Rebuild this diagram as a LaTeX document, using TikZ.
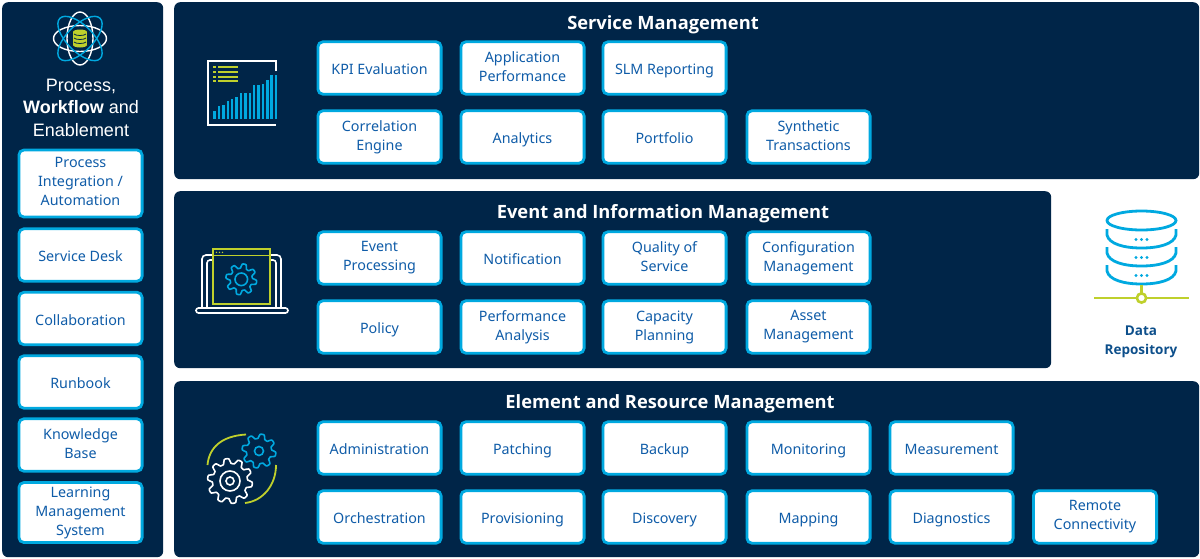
\documentclass[tikz,border=0pt]{standalone}
\usepackage{fontspec}
\setmainfont{Noto Sans}
\newfontfamily\headfont{Liberation Sans}
\newfontfamily\boldfont{Open Sans}
\definecolor{navy}{HTML}{002548}
\definecolor{cyanb}{HTML}{00A9E0}
\definecolor{txtblue}{HTML}{0F5CA8}
\definecolor{lime}{HTML}{BFD02C}
\definecolor{datablue}{HTML}{0D4F8B}
\newcommand{\boxstrut}{\rule[-3.5pt]{0pt}{20pt}}
\tikzset{
  panel/.style={fill=navy,draw=none,rounded corners=6pt},
  itembox/.style={draw=cyanb,line width=2.8pt,fill=white,rounded corners=5pt,minimum width=123.2pt,minimum height=52.4pt,inner sep=0pt,align=center,text=txtblue,font=\fontsize{14.3}{19}\selectfont,anchor=center,execute at begin node=\boxstrut,execute at end node=\boxstrut},
  paneltitle/.style={text=white,font=\boldfont\fontsize{18.3}{22}\selectfont\bfseries,anchor=center},
  iconw/.style={draw=white,line width=1.6pt},
  iconb/.style={draw=cyanb,line width=1.6pt},
  icony/.style={draw=lime,line width=1.6pt},
}
\newcommand{\gearat}[6]{% x,y,R,tooth,n,style
  \draw[#6,line join=round] plot[domain=0:360,samples=#5*12+1] ({#1+(#3+#4*max(min(1.7*sin(#5*\x),1),-1))*cos(\x)},{#2+(#3+#4*max(min(1.7*sin(#5*\x),1),-1))*sin(\x)});
}
\begin{document}
\begin{tikzpicture}[x=1pt,y=-1pt]
\useasboundingbox (0,0) rectangle (1200,558);
\fill[white] (0,0) rectangle (1200,558);
% panels
\node[panel,minimum width=161pt,minimum height=555pt,anchor=north west,inner sep=0pt] (pleft) at (2,2) {};
\node[panel,minimum width=1025pt,minimum height=177pt,anchor=north west,inner sep=0pt] (psm) at (174,2) {};
\node[panel,minimum width=877pt,minimum height=177pt,anchor=north west,inner sep=0pt] (pei) at (174,191) {};
\node[panel,minimum width=1025pt,minimum height=176pt,anchor=north west,inner sep=0pt] (per) at (174,381) {};
% titles
\node[paneltitle] (tsm) at (663,25) {Service Management};
\node[paneltitle] (tei) at (663,213.5) {Event and Information Management};
\node[paneltitle] (ter) at (670,404) {Element and Resource Management};
\node[text=white,align=center,font=\headfont\fontsize{18}{22.4}\selectfont] (tleft) at (81,107.5) {Process,\\\textbf{Workflow} and\\Enablement};
% service
\node[itembox] (a1) at (379.5,68) {KPI Evaluation};
\node[itembox] (a2) at (522.5,68) {Application\\Performance};
\node[itembox] (a3) at (664.5,68) {SLM Reporting};
\node[itembox] (a4) at (379.5,137) {Correlation\\Engine};
\node[itembox] (a5) at (522.5,137) {Analytics};
\node[itembox] (a6) at (664.5,137) {Portfolio};
\node[itembox] (a7) at (808.5,137) {Synthetic\\Transactions};
% event
\node[itembox] (b1) at (379.5,258) {Event\\Processing};
\node[itembox] (b2) at (522.5,258) {Notification};
\node[itembox] (b3) at (664.5,258) {Quality of\\Service};
\node[itembox] (b4) at (808.5,258) {Configuration\\Management};
\node[itembox] (b5) at (379.5,327) {Policy};
\node[itembox] (b6) at (522.5,327) {Performance\\Analysis};
\node[itembox] (b7) at (664.5,327) {Capacity\\Planning};
\node[itembox] (b8) at (808.5,327) {Asset\\Management};
% element
\node[itembox] (c1) at (379.5,448) {Administration};
\node[itembox] (c2) at (522.5,448) {Patching};
\node[itembox] (c3) at (664.5,448) {Backup};
\node[itembox] (c4) at (808.5,448) {Monitoring};
\node[itembox] (c5) at (951.5,448) {Measurement};
\node[itembox] (c6) at (379.5,517) {Orchestration};
\node[itembox] (c7) at (522.5,517) {Provisioning};
\node[itembox] (c8) at (664.5,517) {Discovery};
\node[itembox] (c9) at (808.5,517) {Mapping};
\node[itembox] (c10) at (951.5,517) {Diagnostics};
\node[itembox] (c11) at (1095,517) {Remote\\Connectivity};
% left column
\node[itembox,minimum height=67pt] (l1) at (80.5,183.5) {Process\\Integration /\\Automation};
\node[itembox] (l2) at (80.5,255) {Service Desk};
\node[itembox] (l3) at (80.5,318.5) {Collaboration};
\node[itembox] (l4) at (80.5,382) {Runbook};
\node[itembox] (l5) at (80.5,445) {Knowledge\\Base};
\node[itembox,minimum height=60pt] (l6) at (80.5,512.5) {Learning\\Management\\System};
% atom icon
\foreach \a in {0,90}{\draw[iconw,line width=1.4pt,rotate around={\a:(80,38.5)}] (80,38.5) ellipse (26.5 and 13);}
\foreach \a in {45,-45}{\draw[iconb,line width=1.4pt,rotate around={\a:(80,38.5)}] (80,38.5) ellipse (28.5 and 13);}
\fill[lime] (73,32) rectangle (87,45);
\fill[lime] (80,32) ellipse (7 and 2.5);
\fill[lime] (80,45) ellipse (7 and 2.5);
\foreach \y in {34,38,42}{\draw[navy,line width=.8pt] (74,\y) .. controls (76,\y+2) and (84,\y+2) .. (86,\y);}
% chart icon
\draw[iconw,line width=2pt] (276.3,71) -- (276.3,61) -- (207.5,61) -- (207.5,125) -- (276.3,125);
\foreach \y in {67.3,72,76.7,81.3}{
  \draw[lime,line width=2pt] (218,\y) -- (237.5,\y);
  \draw[lime,line width=2pt] (213,\y) -- (215.5,\y);
}
\foreach \x/\t in {214.5/111,219/106,223.3/105,227.8/101,232.2/98.7,236.5/97.3,241/93.3,245.3/93,249.8/93,254.2/84.7,258.6/84.7,263/83.7,267.4/80,271.5/74.7,275.8/75.3}{
  \draw[cyanb,line width=2.5pt] (\x,119) -- (\x,\t);
}
% laptop icon
\draw[iconw,rounded corners=3pt] (207,307) -- (207,260) -- (276,260) -- (276,307);
\draw[iconw,rounded corners=4pt] (202,307) -- (202,255) -- (281,255) -- (281,307);
\draw[iconw,rounded corners=2.5pt,fill=navy] (196,308) rectangle (288,313);
\draw[icony,fill=navy] (213,249) rectangle (270,304);
\draw[icony] (213,255.5) -- (270,255.5);
\foreach \x in {216.5,219.5,222.5}{\fill[lime] (\x,252.3) circle (.8);}
\gearat{241.3}{279.3}{13.3}{2.2}{8}{iconb}
\draw[iconb] (241.3,279.3) circle (6.3);
% gears icon
\gearat{230}{481}{20}{2.5}{10}{iconw}
\draw[iconw] (230,481) circle (10);
\draw[iconw] (230,481) circle (4);
\gearat{259}{451}{14.8}{2.2}{8}{iconb}
\draw[iconb] (259,451) circle (4.5);
\draw[icony,line width=1.8pt] (207.5,465) .. controls (209,448) and (221,436) .. (246,434.5);
\draw[icony,line width=1.8pt] (276,465) .. controls (276,485) and (263,501) .. (245,503);
% database icon
\draw[cyanb,line width=2.8pt] (1141.5,220.5) ellipse (34.5 and 9.5);
\foreach \y in {229,247,265}{
  \draw[cyanb,line width=2.8pt] (1107,\y) -- (1107,\y+6) .. controls (1109,\y+15) and (1124,\y+19) .. (1141.5,\y+19) .. controls (1159,\y+19) and (1174,\y+15) .. (1176,\y+6) -- (1176,\y);
  \foreach \dx in {-5.5,0,5.5}{\fill[cyanb] (1141.5+\dx,\y+10.5) circle (1.6);}
}
\draw[lime,line width=2.6pt] (1141.5,285) -- (1141.5,293);
\draw[lime,line width=2.6pt] (1094,298) -- (1136.5,298);
\draw[lime,line width=2.6pt] (1146.5,298) -- (1189,298);
\draw[lime,line width=2.6pt] (1141.5,298) circle (4.6);
\node[text=datablue,align=center,font=\boldfont\fontsize{13.5}{18.5}\selectfont\bfseries] (drep) at (1141,342) {Data\\Repository};
\end{tikzpicture}
\end{document}
